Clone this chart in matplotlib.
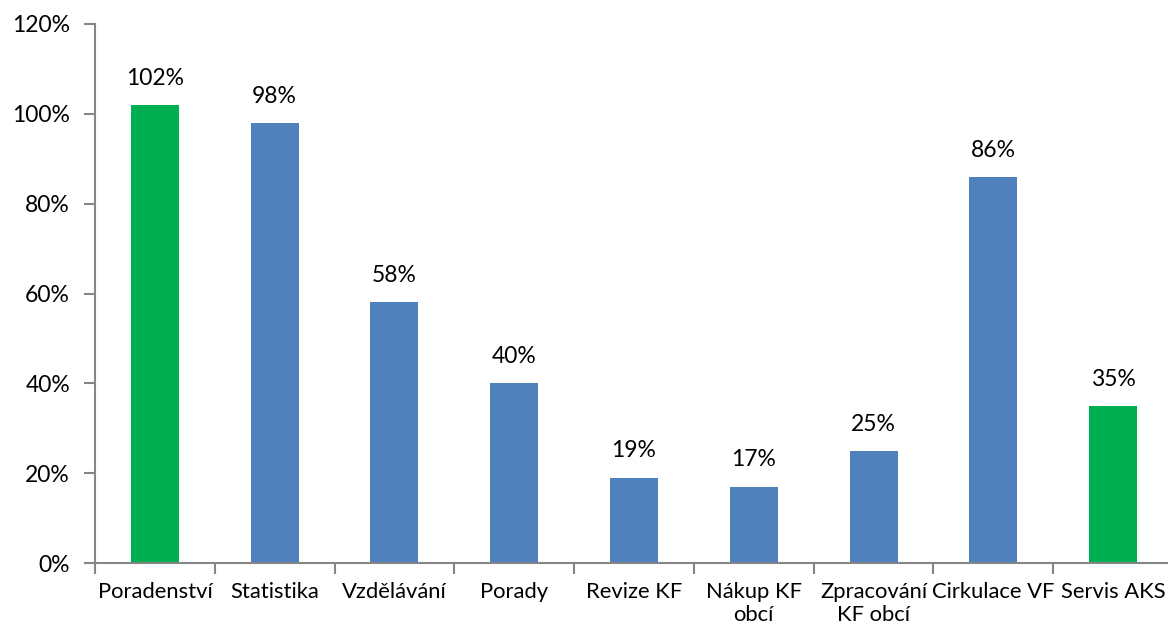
import numpy as np
import matplotlib.pyplot as plt
from matplotlib.ticker import FixedLocator, PercentFormatter

# data
categories = ['Poradenství', 'Statistika', 'Vzdělávání', 'Porady', 'Revize KF',
              'Nákup KF\nobcí', 'Zpracování\nKF obcí', 'Cirkulace VF', 'Servis AKS']
values = [102, 98, 58, 40, 19, 17, 25, 86, 35]
highlight = [True, False, False, False, False, False, False, False, True]

blue = '#4F81BD'
green = '#00B050'
axis_col = '#868686'

plt.rcParams['font.family'] = ['Lato', 'DejaVu Sans']

fig = plt.figure(figsize=(11.68, 6.34), dpi=100)
ax = fig.add_axes([95/1168, 1-563/634, (1173-95)/1168, (563-24)/634])

x = np.arange(len(categories))
colors = [green if h else blue for h in highlight]
bars = ax.bar(x, values, width=0.4, color=colors)

for xi, v in zip(x, values):
    ax.text(xi, v + 3.6, f'{v}%', ha='center', va='bottom', fontsize=16.5)

ax.set_xlim(-0.5, len(categories) - 0.5)
ax.set_ylim(0, 120)
ax.set_yticks(np.arange(0, 121, 20))
ax.yaxis.set_major_formatter(PercentFormatter(decimals=0))

# category labels at centers, ticks at boundaries
ax.set_xticks(np.arange(-0.5, len(categories), 1.0))
ax.set_xticklabels([])
ax.xaxis.set_minor_locator(FixedLocator(x))
ax.set_xticklabels(categories, minor=True, fontsize=15.8, linespacing=1.15)
ax.tick_params(axis='x', which='minor', length=0, pad=14)
ax.tick_params(axis='x', which='major', length=8, width=1.5, color=axis_col, direction='out')
ax.tick_params(axis='y', length=8, width=1.5, color=axis_col, labelsize=16.5, pad=10)

for s in ['top', 'right']:
    ax.spines[s].set_visible(False)
for s in ['left', 'bottom']:
    ax.spines[s].set_color(axis_col)
    ax.spines[s].set_linewidth(1.5)

fig.savefig('out.png', dpi=100)
